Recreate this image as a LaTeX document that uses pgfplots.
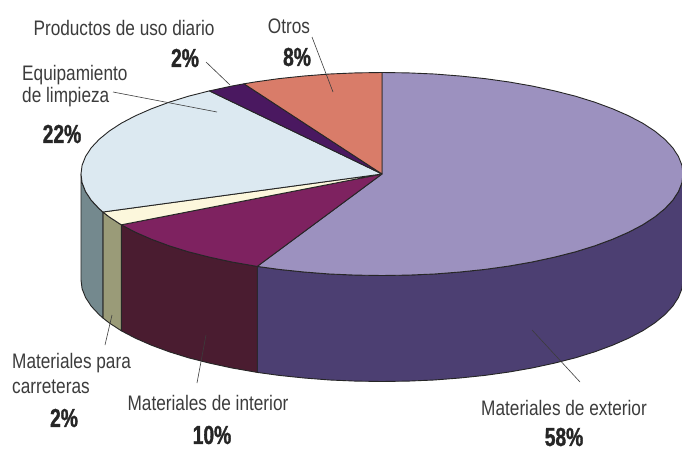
\documentclass[border=0pt]{standalone}
\usepackage{pgfplots}
\pgfplotsset{compat=1.18}
\usepackage{fontspec}
\setmainfont{Liberation Sans}
\newfontfamily\lab[FakeStretch=0.82]{Liberation Sans}
\newfontfamily\pct[FakeStretch=0.74,FakeBold=1.2]{Liberation Sans Bold}
\definecolor{extTop}{HTML}{9C91BF}
\definecolor{extWall}{HTML}{4C3F72}
\definecolor{intTop}{HTML}{7E2260}
\definecolor{intWall}{HTML}{4A1C30}
\definecolor{carTop}{HTML}{FCF7DC}
\definecolor{carWall}{HTML}{9A9B78}
\definecolor{eqTop}{HTML}{DCE9F1}
\definecolor{eqWall}{HTML}{74898E}
\definecolor{proTop}{HTML}{4A1860}
\definecolor{otrTop}{HTML}{D97C69}
\definecolor{ink}{HTML}{3C3C3C}
\tikzset{
  pieedge/.style={draw=black!85, line width=0.9pt, line join=round},
  leadline/.style={draw=ink, line width=0.6pt},
  catname/.style={font=\lab\fontsize{21}{24}\selectfont, text=ink, inner sep=0pt},
  catshare/.style={font=\pct\fontsize{26}{28}\selectfont, text=black!85, inner sep=0pt},
}
\begin{document}
\begin{tikzpicture}
\begin{axis}[
  scale only axis, width=682pt, height=452pt,
  xmin=0, xmax=682, ymin=0, ymax=452, y dir=reverse,
  hide axis,
]
% page background
\addplot[fill=white, draw=none] coordinates {(0,0) (682,0) (682,452) (0,452) (0,0)};

% side walls
\addplot[fill=extWall, pieedge] coordinates {
 (683,174) (681.9,182.8) (678.4,191.6) (672.7,200.3) (664.8,208.7) (654.8,216.9) (642.7,224.8) (628.6,232.2) (612.6,239.2) (594.8,245.8) (575.5,251.8) (554.6,257.1) (532.5,261.9) (509.2,266) (484.9,269.4) (459.9,272) (434.3,274) (408.2,275.1) (382,275.5) (355.8,275.1) (329.7,274) (304.1,272) (279.1,269.4) (257.2,266.4)
 (257.2,372.4) (279.1,375.4) (304.1,378) (329.7,380) (355.8,381.1) (382,381.5) (408.2,381.1) (434.3,380) (459.9,378) (484.9,375.4) (509.2,372) (532.5,367.9) (554.6,363.1) (575.5,357.8) (594.8,351.8) (612.6,345.2) (628.6,338.2) (642.7,330.8) (654.8,322.9) (664.8,314.7) (672.7,306.3) (678.4,297.6) (681.9,288.8) (683,280) (683,174)};
\addplot[fill=intWall, pieedge] coordinates {
 (257.2,266.4) (231.5,261.9) (209.4,257.1) (188.5,251.8) (169.2,245.8) (151.4,239.2) (135.4,232.2) (121.3,224.8)
 (121.3,330.8) (135.4,338.2) (151.4,345.2) (169.2,351.8) (188.5,357.8) (209.4,363.1) (231.5,367.9) (257.2,372.4) (257.2,266.4)};
\addplot[fill=carWall, pieedge] coordinates {
 (121.3,224.8) (109.2,216.9) (102.9,212) (102.9,318) (109.2,322.9) (121.3,330.8) (121.3,224.8)};
\addplot[fill=eqWall, pieedge] coordinates {
 (102.9,212) (99.2,208.7) (91.3,200.3) (85.6,191.6) (82.1,182.8) (81,174)
 (81,280) (82.1,288.8) (85.6,297.6) (91.3,306.3) (99.2,314.7) (102.9,318) (102.9,212)};

% top face, one slice per category
\addplot[fill=extTop, pieedge] coordinates {
 (382,174) (382,72.5) (408.2,72.9) (434.3,74) (459.9,76) (484.9,78.6) (509.2,82) (532.5,86.1) (554.6,90.9) (575.5,96.2) (594.8,102.2) (612.6,108.8) (628.6,115.8) (642.7,123.2) (654.8,131.1) (664.8,139.3) (672.7,147.7) (678.4,156.4) (681.9,165.2) (683,174)
 (681.9,182.8) (678.4,191.6) (672.7,200.3) (664.8,208.7) (654.8,216.9) (642.7,224.8) (628.6,232.2) (612.6,239.2) (594.8,245.8) (575.5,251.8) (554.6,257.1) (532.5,261.9) (509.2,266) (484.9,269.4) (459.9,272) (434.3,274) (408.2,275.1) (382,275.5) (355.8,275.1) (329.7,274) (304.1,272) (279.1,269.4) (257.2,266.4) (382,174)};
\addplot[fill=intTop, pieedge] coordinates {
 (382,174) (257.2,266.4) (231.5,261.9) (209.4,257.1) (188.5,251.8) (169.2,245.8) (151.4,239.2) (135.4,232.2) (121.3,224.8) (382,174)};
\addplot[fill=carTop, pieedge] coordinates {
 (382,174) (121.3,224.8) (109.2,216.9) (102.9,212) (382,174)};
\addplot[fill=eqTop, pieedge] coordinates {
 (382,174) (102.9,212) (99.2,208.7) (91.3,200.3) (85.6,191.6) (82.1,182.8) (81,174) (82.1,165.2) (85.6,156.4) (91.3,147.7) (99.2,139.3) (109.2,131.1) (121.3,123.2) (135.4,115.8) (151.4,108.8) (169.2,102.2) (188.5,96.2) (209.4,90.9) (382,174)};
\addplot[fill=proTop, pieedge] coordinates {
 (382,174) (209.4,90.9) (231.5,86.1) (244,83.8) (382,174)};
\addplot[fill=otrTop, pieedge] coordinates {
 (382,174) (244,83.8) (254.8,82) (279.1,78.6) (304.1,76) (329.7,74) (355.8,72.9) (382,72.5) (382,174)};

% leader lines
\addplot[leadline] coordinates {(312,37) (333,92)};
\addplot[leadline] coordinates {(206,62) (230,85)};
\addplot[leadline] coordinates {(113,92) (217,112)};
\addplot[leadline] coordinates {(112,315) (105,345)};
\addplot[leadline] coordinates {(206,335) (197,383)};
\addplot[leadline] coordinates {(532,330) (580,382)};

% labels
\node[catname] at (axis cs:124,28) {Productos de uso diario};
\node[catshare] at (axis cs:185,58) {2\%};
\node[catname] at (axis cs:289,26) {Otros};
\node[catshare] at (axis cs:297,57) {8\%};
\node[catname, anchor=west] at (axis cs:22,75) {Equipamiento};
\node[catname, anchor=west] at (axis cs:22,97) {de limpieza};
\node[catshare] at (axis cs:62,134) {22\%};
\node[catname, anchor=west] at (axis cs:12,363) {Materiales para};
\node[catname, anchor=west] at (axis cs:12,387) {carreteras};
\node[catshare] at (axis cs:64,418) {2\%};
\node[catname] at (axis cs:208,403) {Materiales de interior};
\node[catshare] at (axis cs:212,435) {10\%};
\node[catname] at (axis cs:564,408) {Materiales de exterior};
\node[catshare] at (axis cs:564,437) {58\%};
\end{axis}
\end{tikzpicture}
\end{document}
